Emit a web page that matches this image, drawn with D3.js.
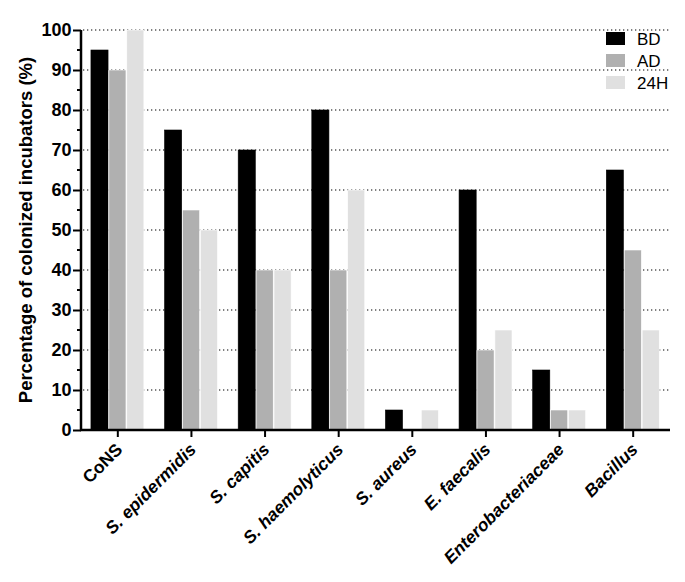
<!DOCTYPE html>
<html lang="en">
<head>
<meta charset="UTF-8">
<title>Colonized incubators</title>
<script src="https://d3js.org/d3.v7.min.js"></script>
<style>
  body { margin: 0; background: #fff; }
  text { font-family: "Liberation Sans", Arial, sans-serif; }
</style>
</head>
<body>
<script>
// data
var categories = ["CoNS", "S. epidermidis", "S. capitis", "S. haemolyticus", "S. aureus", "E. faecalis", "Enterobacteriaceae", "Bacillus"];
var italicCats = [false, true, true, true, true, true, true, true];
var seriesNames = ["BD", "AD", "24H"];
var bdValues = [95, 75, 70, 80, 5, 60, 15, 65];
var adValues = [90, 55, 40, 40, 0, 20, 5, 45];
var h24Values = [100, 50, 40, 60, 5, 25, 5, 25];
var yTicks = [0, 10, 20, 30, 40, 50, 60, 70, 80, 90, 100];

var colors = ["#000000", "#b0b0b0", "#e0e0e0"];
var allSeries = [bdValues, adValues, h24Values];

var width = 685, height = 582;
var pLeft = 81, pRight = 670, pTop = 30, pBottom = 430;

var svg = d3.select("body").append("svg")
    .attr("width", width)
    .attr("height", height);

var x = d3.scaleBand().domain(categories).range([pLeft, pRight]).paddingInner(0.27).paddingOuter(0.135);
var xs = d3.scaleBand().domain(seriesNames).range([0, x.bandwidth()]);
var y = d3.scaleLinear().domain([0, 100]).range([pBottom, pTop]);

// dotted grid
svg.append("g").selectAll("line")
    .data(yTicks.filter(function (d) { return d > 0; }))
    .enter().append("line")
    .attr("x1", pLeft + 2).attr("x2", pRight)
    .attr("y1", function (d) { return y(d); })
    .attr("y2", function (d) { return y(d); })
    .attr("stroke", "#000")
    .attr("stroke-width", 1.2)
    .attr("stroke-dasharray", "1.3,2.7");

// bars
var rows = [];
categories.forEach(function (c, i) {
    seriesNames.forEach(function (s, j) {
        rows.push({ cat: c, series: s, value: allSeries[j][i], color: colors[j] });
    });
});
svg.append("g").selectAll("rect")
    .data(rows.filter(function (d) { return d.value > 0; }))
    .enter().append("rect")
    .attr("x", function (d) { return x(d.cat) + xs(d.series); })
    .attr("width", xs.bandwidth() - 0.8)
    .attr("y", function (d) { return y(d.value); })
    .attr("height", function (d) { return y(0) - y(d.value); })
    .attr("fill", function (d) { return d.color; })
    .attr("stroke", function (d) { return d.color === "#000000" ? "#000" : "#fff"; })
    .attr("stroke-width", 0.6);

// y axis
var yAxis = svg.append("g").attr("transform", "translate(" + pLeft + ",0)")
    .call(d3.axisLeft(y).tickValues(yTicks).tickSize(8).tickPadding(1.5));
yAxis.select(".domain").attr("stroke-width", 2.5).attr("d", "M0," + (y(0) + 1) + "V" + pTop);
yAxis.selectAll(".tick line").attr("stroke-width", 2);
yAxis.selectAll("text").attr("font-size", 18).attr("font-weight", "bold").attr("fill", "#000")
    .style("font-family", "Liberation Sans, Arial, sans-serif");
// minor ticks
yAxis.append("g").selectAll("line")
    .data(d3.range(5, 100, 10))
    .enter().append("line")
    .attr("x1", -4).attr("x2", 0)
    .attr("y1", function (d) { return y(d); })
    .attr("y2", function (d) { return y(d); })
    .attr("stroke", "#000").attr("stroke-width", 2);

// x axis
var xAxis = svg.append("g").attr("transform", "translate(0," + pBottom + ")")
    .call(d3.axisBottom(x).tickSize(7).tickFormat(""));
xAxis.select(".domain").attr("stroke-width", 2.5).attr("d", "M" + (pLeft - 1) + ",0H" + pRight);
xAxis.selectAll(".tick line").attr("stroke-width", 2);

svg.append("g").selectAll("text")
    .data(categories)
    .enter().append("text")
    .attr("transform", function (d) {
        return "translate(" + (x(d) + x.bandwidth() / 2 - 3) + "," + (pBottom + 12) + ") rotate(-45)";
    })
    .attr("text-anchor", "end")
    .attr("dy", "0.7em")
    .attr("font-size", 17.5)
    .attr("font-weight", "bold")
    .attr("font-style", function (d, i) { return italicCats[i] ? "italic" : "normal"; })
    .text(function (d) { return d; });

// y label
svg.append("text")
    .attr("transform", "translate(32," + ((pTop + pBottom) / 2) + ") rotate(-90)")
    .attr("text-anchor", "middle")
    .attr("font-size", 18.5)
    .attr("font-weight", "bold")
    .text("Percentage of colonized incubators (%)");

// legend
var legend = svg.append("g").selectAll("g")
    .data(seriesNames)
    .enter().append("g")
    .attr("transform", function (d, i) { return "translate(606," + (32 + i * 22) + ")"; });
legend.append("rect").attr("width", 19).attr("height", 13)
    .attr("fill", function (d, i) { return colors[i]; });
legend.append("text").attr("x", 31).attr("y", 13)
    .attr("font-size", 17)
    .text(function (d) { return d; });
</script>
</body>
</html>
